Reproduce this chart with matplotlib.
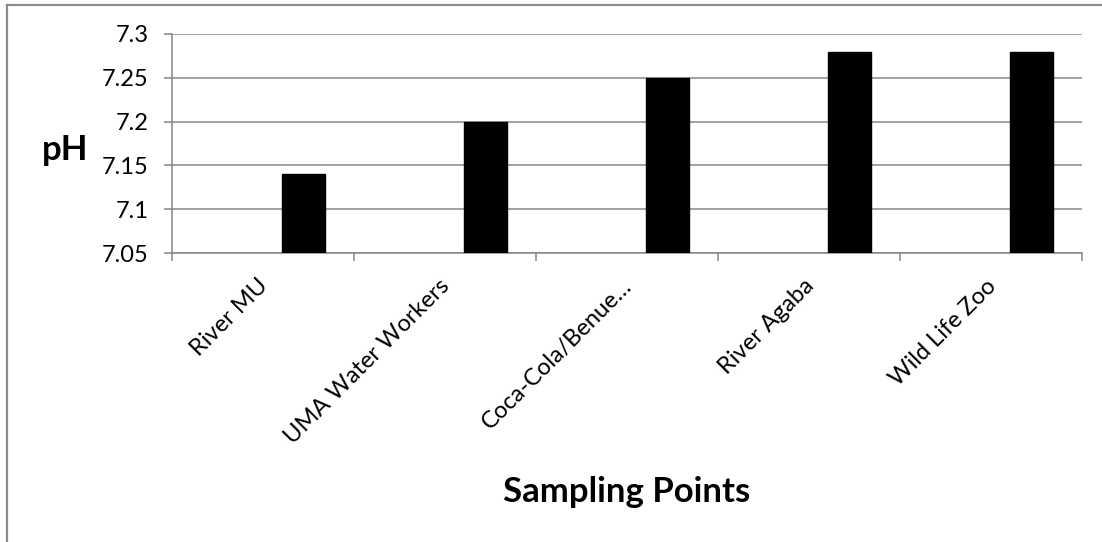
import matplotlib.pyplot as plt
import matplotlib.transforms as mtransforms
from matplotlib.lines import Line2D
import numpy as np

# data
sites = ['River MU', 'UMA Water Workers', 'Coca-Cola/Benue\u2026', 'River Agaba', 'Wild Life Zoo']
ph = [7.14, 7.20, 7.25, 7.28, 7.28]
yticks = [7.05, 7.1, 7.15, 7.2, 7.25, 7.3]
ytick_labels = ['7.05', '7.1', '7.15', '7.2', '7.25', '7.3']

GRID = '#868686'
plt.rcParams['font.family'] = ['Lato', 'DejaVu Sans']

fig = plt.figure(figsize=(11.02, 5.42), dpi=100)
ax = fig.add_axes([172/1102, 1-253/542, (1082-172)/1102, (253-34)/542])

x = np.arange(len(sites))
ax.bar(x + 0.22, ph, width=0.236, bottom=0, color='black', edgecolor='black', zorder=3)

ax.set_xlim(-0.5, len(sites) - 0.5)
ax.set_ylim(7.05, 7.3)
ax.set_yticks(yticks, ytick_labels)
ax.yaxis.grid(True, color=GRID, linewidth=1.1)
ax.set_axisbelow(True)

# category labels centred, tick marks on the boundaries
ax.set_xticks(x, sites, rotation=45, ha='right', va='top', rotation_mode='anchor')
ax.set_xticks(np.arange(-0.5, len(sites)), minor=True)
ax.tick_params(axis='x', which='major', length=0, pad=16, labelsize=17)
ax.tick_params(axis='x', which='minor', length=5.5, width=1.1, color=GRID)
ax.tick_params(axis='y', length=6, width=1.1, color=GRID, pad=11, labelsize=17)

shift = mtransforms.ScaledTranslation(-6/100, 0, fig.dpi_scale_trans)
for lab in ax.get_xticklabels():
    lab.set_transform(lab.get_transform() + shift)

for s in ['top', 'right']:
    ax.spines[s].set_visible(False)
for s in ['left', 'bottom']:
    ax.spines[s].set_color(GRID)
    ax.spines[s].set_linewidth(1.1)

fig.text(65/1102, 1-160/542, 'pH', ha='center', va='baseline', fontsize=25, fontweight='bold')
fig.text(627/1102, 1-502/542, 'Sampling Points', ha='center', va='baseline', fontsize=25, fontweight='bold')

# outer chart frame (only top and left edges show)
fig.add_artist(Line2D([7/1102, 1], [1-5/542, 1-5/542], color='#8c8c8c', linewidth=1.6, transform=fig.transFigure))
fig.add_artist(Line2D([7/1102, 7/1102], [0, 1-5/542], color='#8c8c8c', linewidth=1.6, transform=fig.transFigure))

fig.savefig('out.png', dpi=100)
